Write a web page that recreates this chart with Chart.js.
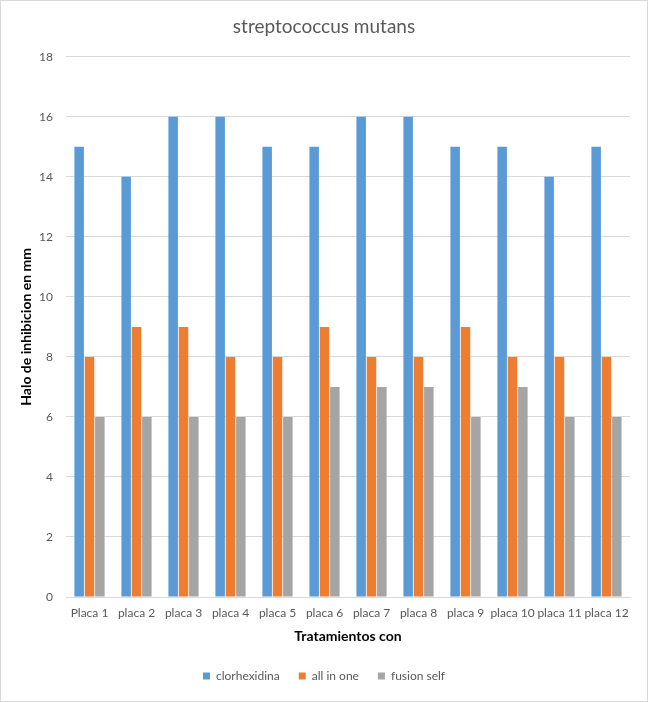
<!DOCTYPE html>
<html>
<head>
<meta charset="utf-8">
<script src="https://cdn.jsdelivr.net/npm/chart.js@4/dist/chart.umd.min.js"></script>
<style>
  html, body { margin: 0; padding: 0; background: #fff; }
  #wrap { width: 648px; height: 702px; box-sizing: border-box; border: 1px solid #d9d9d9; }
</style>
</head>
<body>
<div id="wrap"><canvas id="c" width="646" height="700"></canvas></div>
<script>
const labels = ['Placa 1','placa 2','placa 3','placa 4','placa 5','placa 6','placa 7','placa 8','placa 9','placa 10','placa 11','placa 12'];
const clorhexidina = [15,14,16,16,15,15,16,16,15,15,14,15];
const allInOne     = [8,9,9,8,8,9,8,8,9,8,8,8];
const fusionSelf   = [6,6,6,6,6,7,7,7,6,7,6,6];

const FONT = 'Lato, "Open Sans", sans-serif';
const txt = '#595959', grid = '#d9d9d9';

new Chart(document.getElementById('c'), {
  type: 'bar',
  data: {
    labels,
    datasets: [
      { label: 'clorhexidina', data: clorhexidina, backgroundColor: '#5b9bd5' },
      { label: 'all in one', data: allInOne, backgroundColor: '#ed7d31' },
      { label: 'fusion self', data: fusionSelf, backgroundColor: '#a5a5a5' }
    ]
  },
  options: {
    responsive: false,
    animation: false,
    datasets: { bar: { categoryPercentage: 0.66, barPercentage: 0.92 } },
    layout: { padding: { left: 0, right: 0, top: 0, bottom: 9 } },
    plugins: {
      title: { display: true, text: 'streptococcus mutans', color: txt,
        font: { family: FONT, size: 19, weight: 'normal' }, padding: { top: 14, bottom: 19 } },
      legend: { position: 'bottom',
        labels: { color: txt, font: { family: FONT, size: 12 }, boxWidth: 7, boxHeight: 7, padding: 19 } },
      tooltip: { enabled: false }
    },
    scales: {
      x: {
        grid: { display: false, drawTicks: false },
        border: { color: grid },
        ticks: { color: txt, font: { family: FONT, size: 12 }, autoSkip: false, maxRotation: 0, minRotation: 0, padding: 9 },
        title: { display: true, text: 'Tratamientos con', color: '#000',
          font: { family: FONT, size: 14, weight: 'bold' }, padding: { top: 0, bottom: 6 } },
        afterFit: s => { s.height = 54; }
      },
      y: {
        min: 0, max: 18,
        grid: { color: grid, drawTicks: false },
        border: { display: false },
        ticks: { stepSize: 2, color: txt, font: { family: FONT, size: 12 }, padding: 13 },
        title: { display: true, text: 'Halo de inhibicion en mm', color: '#000',
          font: { family: FONT, size: 14, weight: 'bold' }, padding: { top: 17, bottom: 0 } },
        afterFit: s => { s.width = 65; }
      },
      // empty strip on the right so the plot ends where the reference does
      pad: {
        position: 'right', display: true,
        grid: { display: false, drawTicks: false }, border: { display: false },
        ticks: { display: false },
        afterFit: s => { s.width = 17; }
      }
    }
  }
});
</script>
</body>
</html>
